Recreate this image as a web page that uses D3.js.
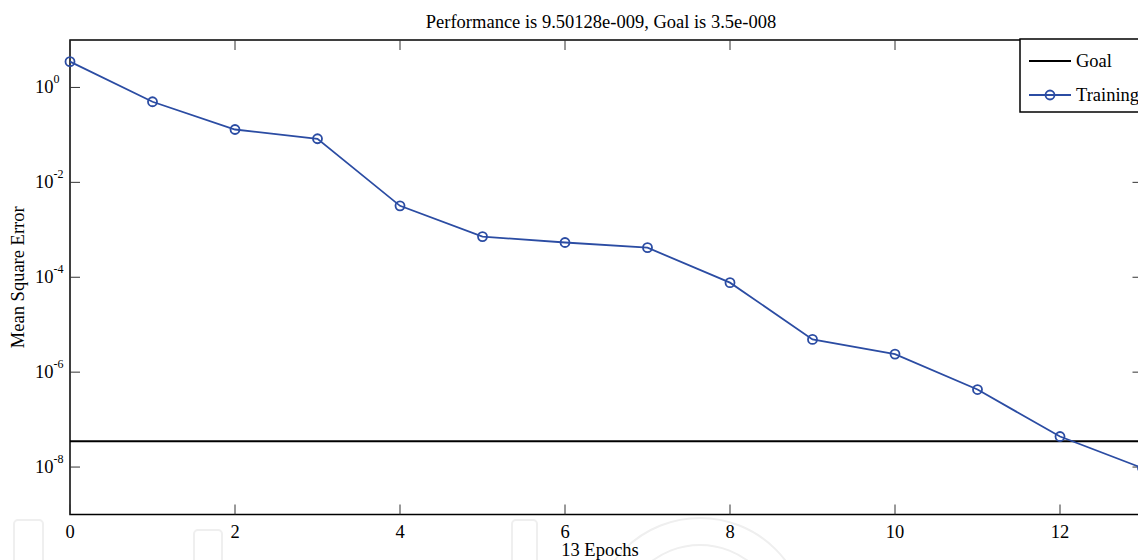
<!DOCTYPE html>
<html><head><meta charset="utf-8">
<script src="https://cdn.jsdelivr.net/npm/d3@7"></script>
<style>body{margin:0;background:#fff}svg{display:block}</style>
</head><body>
<svg id="c" width="1138" height="560"></svg>
<script>
const epochs = [0,1,2,3,4,5,6,7,8,9,10,11,12,13];
const training = [3.5,0.5,0.13,0.083,0.0032,7.2e-4,5.4e-4,4.2e-4,7.7e-5,4.9e-6,2.4e-6,4.3e-7,4.4e-8,9.50128e-9];
const goal = 3.5e-8;
const xTicks = [0,2,4,6,8,10,12];
const yTickExps = [0,-2,-4,-6,-8];
const titleText = "Performance is 9.50128e-009, Goal is 3.5e-008";
const xLabel = "13 Epochs";
const yLabel = "Mean Square Error";
const legendItems = ["Goal","Training"];

const svg = d3.select("#c");
const font = "'Liberation Serif','Times New Roman',serif";
const fs = 18.5;
const L = 70, R = 1142.5, T = 40, B = 514.5;
const x = d3.scaleLinear().domain([0,13]).range([L,R]);
const y = d3.scaleLog().domain([1e-9,1e1]).range([B,T]);
const blue = "#2b4ca3";

// watermark (faint)
const wm = svg.append("g").attr("fill","none").attr("stroke","#efefef").attr("stroke-width",2);
wm.append("rect").attr("x",14).attr("y",520).attr("width",29).attr("height",50).attr("rx",4);
wm.append("rect").attr("x",194).attr("y",530).attr("width",28).attr("height",40).attr("rx",4);
wm.append("rect").attr("x",512).attr("y",520).attr("width",25).attr("height",50).attr("rx",4);
wm.append("circle").attr("cx",700).attr("cy",625).attr("r",107);
wm.append("circle").attr("cx",700).attr("cy",625).attr("r",80);

const g = svg.append("g");
g.append("rect").attr("x",L).attr("y",T).attr("width",R-L).attr("height",B-T)
  .attr("fill","none").attr("stroke","#000").attr("stroke-width",1.5);

const tk = g.append("g").attr("stroke","#333").attr("stroke-width",1);
xTicks.forEach(t=>{
  tk.append("line").attr("x1",x(t)).attr("x2",x(t)).attr("y1",B).attr("y2",B-10);
  tk.append("line").attr("x1",x(t)).attr("x2",x(t)).attr("y1",T).attr("y2",T+10);
});
yTickExps.forEach(e=>{
  const v = Math.pow(10,e);
  tk.append("line").attr("x1",L).attr("x2",L+10).attr("y1",y(v)).attr("y2",y(v));
  tk.append("line").attr("x1",R).attr("x2",R-10).attr("y1",y(v)).attr("y2",y(v));
});

xTicks.forEach(t=>{
  svg.append("text").attr("x",x(t)).attr("y",B+23).attr("text-anchor","middle")
    .attr("font-family",font).attr("font-size",fs).text(t);
});
yTickExps.forEach(e=>{
  const v = Math.pow(10,e);
  const tx = svg.append("text").attr("x",35).attr("y",y(v)+6)
    .attr("font-family",font).attr("font-size",fs);
  tx.append("tspan").text("10");
  tx.append("tspan").attr("dy",-10).attr("font-size",12).text(e);
});

g.append("line").attr("x1",L).attr("x2",R).attr("y1",y(goal)).attr("y2",y(goal))
  .attr("stroke","#000").attr("stroke-width",2);

const pts = epochs.map((e,i)=>[x(e),y(training[i])]);
g.append("path").attr("d",d3.line()(pts)).attr("fill","none").attr("stroke",blue).attr("stroke-width",1.8);
g.selectAll("circle.m").data(pts).enter().append("circle").attr("class","m")
  .attr("cx",d=>d[0]).attr("cy",d=>d[1]).attr("r",4.5)
  .attr("fill","none").attr("stroke",blue).attr("stroke-width",1.8);

svg.append("text").attr("x",601).attr("y",28).attr("text-anchor","middle")
  .attr("font-family",font).attr("font-size",fs).text(titleText);
svg.append("text").attr("x",600).attr("y",556).attr("text-anchor","middle")
  .attr("font-family",font).attr("font-size",fs).text(xLabel);
svg.append("text").attr("transform",`translate(24,${(T+B)/2}) rotate(-90)`).attr("text-anchor","middle")
  .attr("font-family",font).attr("font-size",fs).text(yLabel);

const lg = svg.append("g");
lg.append("rect").attr("x",1020).attr("y",39).attr("width",140).attr("height",73)
  .attr("fill","#fff").attr("stroke","#000").attr("stroke-width",1.5);
lg.append("line").attr("x1",1029).attr("x2",1071).attr("y1",61).attr("y2",61).attr("stroke","#000").attr("stroke-width",2);
lg.append("text").attr("x",1076).attr("y",67).attr("font-family",font).attr("font-size",fs).text(legendItems[0]);
lg.append("line").attr("x1",1029).attr("x2",1071).attr("y1",95).attr("y2",95).attr("stroke",blue).attr("stroke-width",1.8);
lg.append("circle").attr("cx",1050).attr("cy",95).attr("r",4.5).attr("fill","none").attr("stroke",blue).attr("stroke-width",1.8);
lg.append("text").attr("x",1076).attr("y",101).attr("font-family",font).attr("font-size",fs).text(legendItems[1]);
</script>
</body></html>
